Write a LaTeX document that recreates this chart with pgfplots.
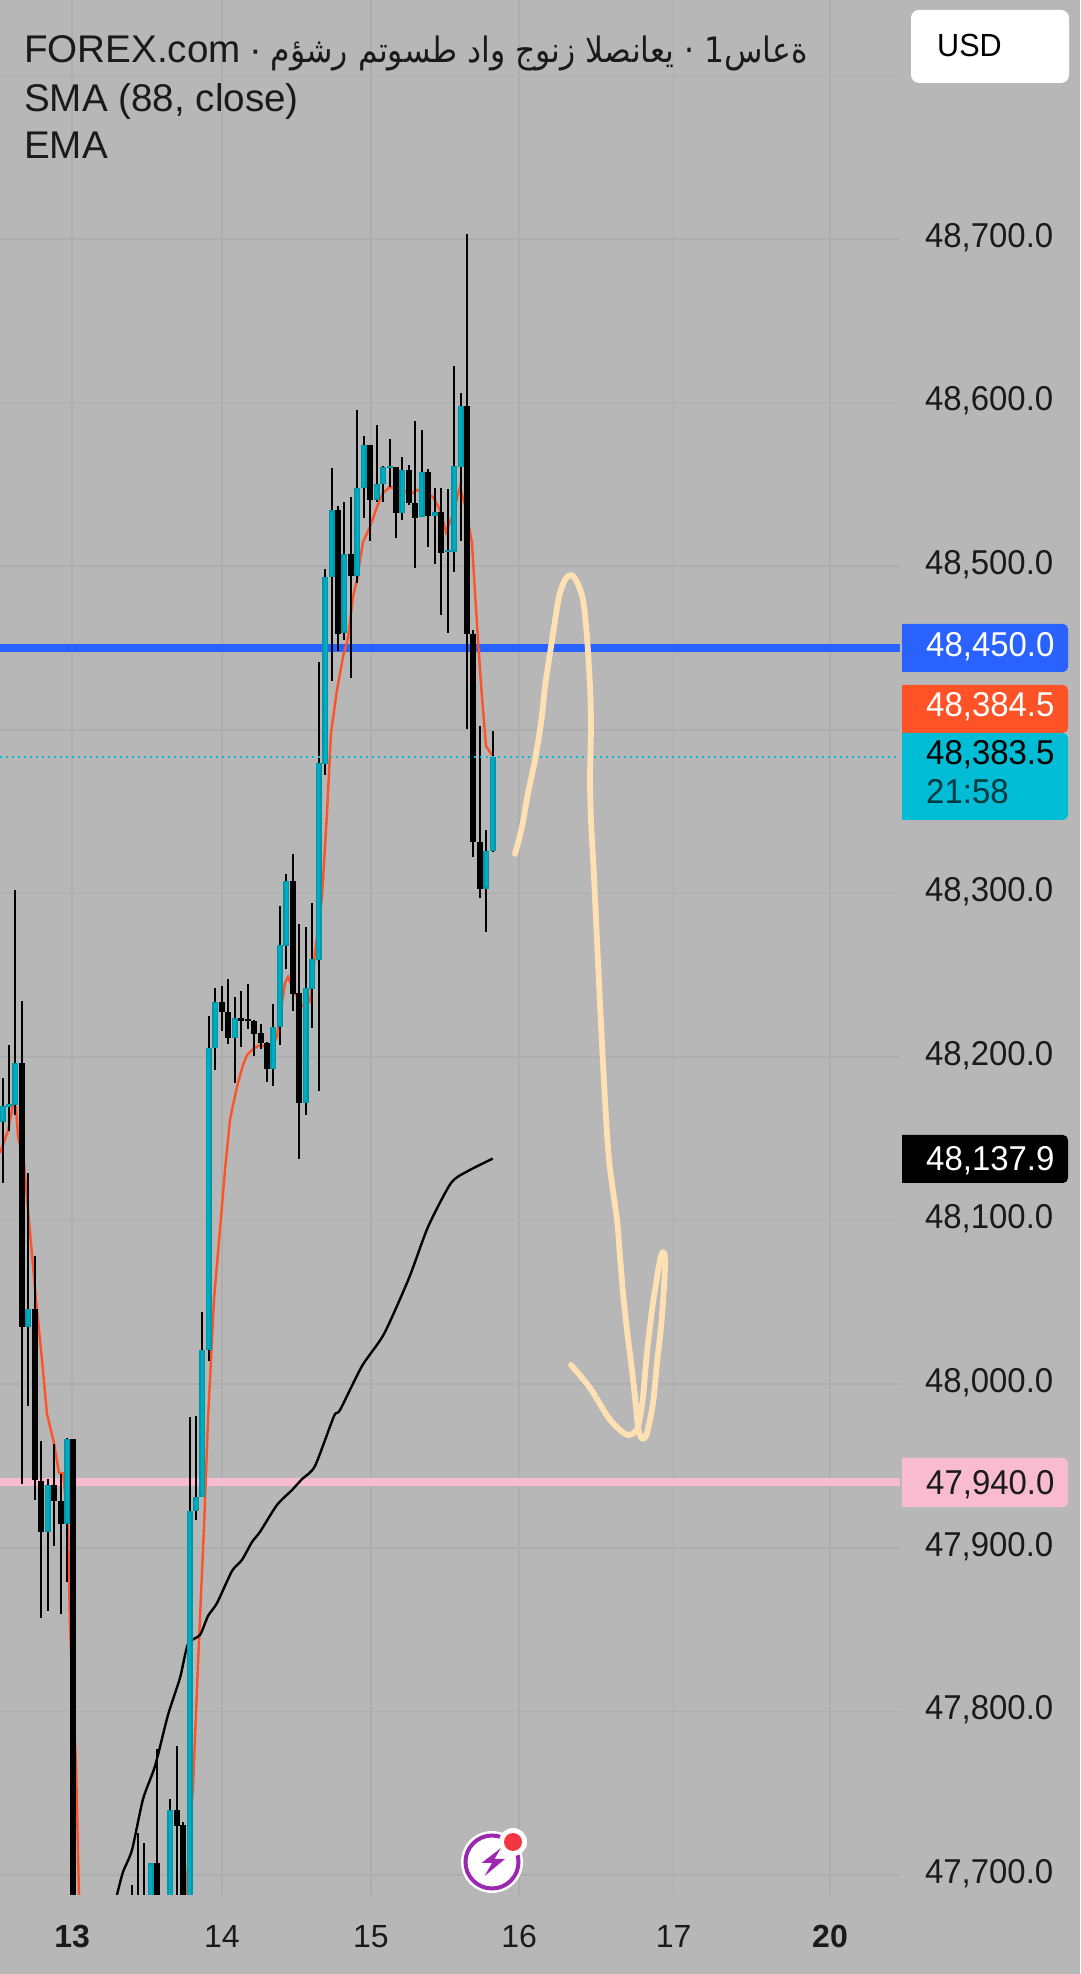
\documentclass[border=0pt]{standalone}
\usepackage{fontspec}
\usepackage{pgfplots}
\usepackage{pgfplotstable}
\pgfplotsset{compat=1.18}
\setmainfont{Liberation Sans}
\newfontfamily\pricefont[FakeStretch=0.955]{Liberation Sans}
\newfontfamily\arabicfont[Script=Arabic,FakeStretch=0.90]{DejaVu Sans}
\TeXXeTstate=1

\definecolor{bgc}{HTML}{B7B7B7}
\definecolor{gridc}{HTML}{AEAEAE}
\definecolor{upedge}{HTML}{0097A7}
\definecolor{upfill}{HTML}{00ACC1}
\definecolor{emac}{HTML}{FF5226}
\definecolor{bluec}{HTML}{2962FF}
\definecolor{pinkc}{HTML}{F8BBD0}
\definecolor{cyanc}{HTML}{00BCD4}
\definecolor{peach}{HTML}{FFE0B2}
\definecolor{txt}{HTML}{1A1A1A}
\definecolor{boltc}{HTML}{9C27B0}
\definecolor{dotc}{HTML}{F43643}

% n = candle number (hourly), prices
\pgfplotstableread{
n o h l c
-11 48160.3 48187.2 48123.0 48170.1
-10 48169.4 48207.3 48154.8 48171.3
-9 48170.7 48302.1 48164.6 48196.3
-7 48035.0 48129.1 47986.7 48046.0
-4 47909.7 47942.0 47861.4 47938.4
-1 47914.6 47967.1 47879.1 47966.5
12 47660.0 47707.3 47650.0 47707.3
15 47670.0 47746.4 47660.0 47739.7
18 47660.0 47979.9 47650.0 47922.5
19 47922.5 47980.5 47917.0 47931.0
20 47931.0 48044.1 47931.0 48020.9
21 48020.9 48225.1 48014.2 48205.5
22 48205.5 48242.2 48192.0 48233.6
25 48211.6 48236.7 48184.1 48223.8
31 48192.6 48232.4 48182.3 48218.4
32 48218.4 48292.3 48207.3 48268.5
33 48267.9 48311.9 48253.8 48307.6
36 48171.9 48279.5 48164.6 48242.2
37 48241.6 48294.1 48217.7 48259.9
38 48259.3 48441.4 48179.2 48379.7
39 48379.1 48498.3 48372.4 48493.4
40 48493.4 48560.0 48429.8 48534.3
42 48459.2 48539.2 48454.9 48507.4
44 48494.0 48595.5 48489.7 48547.8
45 48547.8 48579.6 48529.5 48574.1
47 48540.5 48586.3 48539.2 48550.2
48 48550.2 48561.3 48539.2 48560.6
49 48560.0 48577.8 48548.4 48561.3
51 48532.5 48566.8 48528.2 48558.8
54 48530.1 48583.3 48530.1 48557.6
56 48530.7 48547.8 48501.3 48533.1
58 48508.7 48547.2 48459.2 48509.9
59 48508.7 48622.4 48496.5 48561.3
60 48560.6 48605.9 48515.4 48597.9
64 48302.7 48338.8 48276.4 48325.9
65 48325.9 48399.2 48325.3 48383.5
}\upcandles

\pgfplotstableread{
n o h l c
-8 48196.3 48234.2 47939.0 48035.0
-6 48046.0 48078.4 47929.2 47941.4
-5 47940.8 47965.3 47857.1 47909.7
-3 47938.4 47963.5 47901.1 47928.6
-2 47928.6 47945.1 47859.5 47914.6
0 47966.5 47966.5 47650.0 47650.0
9 47670.0 47693.9 47650.0 47660.0
10 47670.0 47725.7 47650.0 47660.0
11 47670.0 47719.6 47650.0 47660.0
13 47707.3 47777.0 47650.0 47670.0
16 47739.7 47778.9 47650.0 47730.0
17 47730.6 47732.4 47650.0 47660.0
23 48233.6 48243.4 48215.9 48227.5
24 48227.5 48247.7 48207.9 48211.6
26 48223.8 48240.3 48206.1 48222.0
27 48223.2 48244.6 48217.1 48222.0
28 48222.0 48222.6 48200.6 48214.0
29 48214.7 48220.2 48204.9 48208.6
30 48208.6 48209.2 48184.7 48192.6
34 48307.6 48324.1 48228.1 48238.5
35 48239.1 48281.3 48137.6 48171.9
41 48534.3 48536.8 48448.2 48458.6
43 48507.4 48542.3 48431.7 48494.0
46 48574.1 48574.1 48515.4 48540.5
50 48560.6 48560.6 48517.2 48532.5
52 48558.8 48561.9 48537.4 48538.6
53 48538.6 48588.8 48498.9 48529.5
55 48557.6 48559.4 48511.7 48530.7
57 48533.1 48547.8 48470.2 48508.0
61 48597.9 48703.1 48400.5 48458.6
62 48458.6 48461.0 48322.2 48331.4
63 48331.4 48402.3 48297.2 48302.7
}\downcandles

\newcommand{\pricebox}[7]{%
  \fill[#1] (902,#2) [rounded corners=5pt] -- (1068,#2) -- (1068,#3) [sharp corners] -- (902,#3) -- cycle;
  \node[anchor=base west,inner sep=0pt,text=#4,font=\pricefont\fontsize{34.5}{34.5}\selectfont] at (926,#5) {#6};#7}

\begin{document}
\begin{tikzpicture}
\useasboundingbox (0pt,0pt) rectangle (1080pt,1974pt);
\fill[bgc] (0pt,0pt) rectangle (1080pt,1974pt);
\begin{axis}[
    at={(0pt,79pt)}, anchor=south west,
    scale only axis,
    width=900pt, height=1895pt,
    xmin=-11.395, xmax=128.14,
    ymin=47687.77, ymax=48846.09,
    axis line style={draw=none},
    major tick length=0pt,
    xtick={-0.2,23,46.1,69.1,93.05,117.29},
    xticklabels={{\bfseries 13},14,15,16,17,{\bfseries 20}},
    ytick={47700,47800,47900,48000,48100,48200,48300,48400,48500,48600,48700,48800},
    yticklabels={{47,700.0},{47,800.0},{47,900.0},{48,000.0},{48,100.0},{48,200.0},{48,300.0},{48,400.0},{48,500.0},{48,600.0},{48,700.0},{}},
    yticklabel pos=right,
    grid=major,
    grid style={gridc, line width=1.5pt},
    xticklabel style={font=\fontsize{32}{32}\selectfont, text=txt, anchor=base, yshift=-53pt, inner sep=0pt},
    yticklabel style={font=\pricefont\fontsize{34.5}{34.5}\selectfont, text=txt, anchor=east, xshift=153.5pt, yshift=1.5pt, inner sep=0pt},
  ]

  % horizontal levels
  \addplot[pinkc, line width=8pt, forget plot] coordinates {(-11.395,47940) (128.14,47940)};
  \addplot[bluec, line width=8pt, forget plot] coordinates {(-11.395,48450) (128.14,48450)};

  % --- EMA ---
  \addplot[emac, line width=2.4pt, forget plot] coordinates {
    (-11.4,48141.3) (-10.16,48154.8) (-9.38,48170.7) (-8.91,48169.4) (-8.6,48151.1) (-7.67,48135.2)
    (-7.05,48106.5) (-5.81,48051.5) (-4.88,48014.8) (-4.11,47981.8) (-3.02,47964.1) (-2.25,47945.7)
    (-1.63,47945.7) (-0.85,47914.6) (-0.54,47851.0) (0.39,47767.2) (0.85,47687.8) (1.3,47623)
    (10,47600) (16,47620) (17.13,47654) (17.44,47687.8) (18.53,47754.4) (19.46,47843.6) (20.23,47912.1)
    (20.85,47978.1) (21.78,48051.5) (23.49,48130.9) (24.26,48161.5) (24.73,48170.7) (25.5,48184.1)
    (26.28,48195.1) (26.9,48201.2) (27.83,48204.9) (28.91,48207.3) (30.47,48205.5) (31.55,48212.2)
    (32.79,48245.2) (33.26,48248.9) (34.34,48239.1) (35.43,48231.2) (36.67,48233.6) (36.98,48245.2)
    (37.44,48263.6) (38.53,48297.8) (39.3,48349.1) (39.92,48398.0) (40.85,48424.3) (41.78,48444.5)
    (42.56,48456.1) (43.33,48481.2) (43.95,48491.6) (44.88,48514.8) (45.97,48524.0) (47.05,48536.2)
    (47.98,48544.8) (49.07,48548.4) (50.62,48546.6) (52.64,48544.8) (53.26,48546.6) (55.74,48542.3)
    (56.82,48534.3) (57.75,48520.9) (58.68,48530.1) (59.92,48548.4) (60.7,48537.4) (61.78,48514.2)
    (62.71,48454.9) (63.33,48420.0) (63.95,48390.1) (64.88,48384.5)
  };

  % --- SMA 88 ---
  \addplot[black, line width=2.4pt, smooth, tension=0.4, forget plot] coordinates {
    (6.74,47687.8) (7.67,47701.8) (9.07,47715.3) (10.78,47746.4) (12.64,47766.6) (14.65,47797.8)
    (16.51,47820.4) (17.75,47841.2) (19.61,47846.7) (20.85,47858.3) (22.25,47866.2) (24.57,47885.8)
    (26.12,47892.6) (27.67,47903.5) (28.91,47909.7) (31.55,47926.2) (33.88,47935.3) (35.43,47942.0)
    (37.44,47950.0) (40.39,47980.5) (41.32,47984.2) (44.73,48011.1) (48.14,48030.7) (52.02,48064.9)
    (54.96,48096.1) (58.53,48123.0) (61.16,48130.3) (65,48137.9)
  };

  % --- candles: wicks, then bodies ---
  \addplot[draw=none, forget plot, error bars/.cd, y dir=plus, y explicit, error mark=none,
      error bar style={black, line width=2pt}]
    table[x=n, y=l, y error expr=\thisrow{h}-\thisrow{l}] {\upcandles};
  \addplot[draw=none, forget plot, error bars/.cd, y dir=plus, y explicit, error mark=none,
      error bar style={black, line width=2pt}]
    table[x=n, y=l, y error expr=\thisrow{h}-\thisrow{l}] {\downcandles};
  \addplot[draw=none, forget plot, error bars/.cd, y dir=plus, y explicit, error mark=none,
      error bar style={black, line width=6pt}]
    table[x=n, y=c, y error expr=\thisrow{o}-\thisrow{c}] {\downcandles};
  \addplot[draw=none, forget plot, error bars/.cd, y dir=plus, y explicit, error mark=none,
      error bar style={upedge, line width=6pt}]
    table[x=n, y=o, y error expr=\thisrow{c}-\thisrow{o}] {\upcandles};
  \addplot[draw=none, forget plot, error bars/.cd, y dir=plus, y explicit, error mark=none,
      error bar style={upfill, line width=3pt}]
    table[x=n, y expr=\thisrow{o}+0.9, y error expr={max(\thisrow{c}-\thisrow{o}-1.8,0)}] {\upcandles};

  % current price
  \addplot[cyanc, line width=2pt, dash pattern=on 2pt off 4pt, forget plot] coordinates {(-11.395,48383.5) (128.14,48383.5)};

  % hand drawn arrow
  \addplot[peach, line width=5.8pt, line cap=round, line join=round, smooth, tension=0.55, forget plot] coordinates {
    (68.45,48324.1) (69.53,48340.6) (70.47,48361.4) (71.55,48381.5) (72.48,48404.2) (73.1,48426.2)
    (73.88,48446.9) (74.5,48462.8) (75.27,48481.2) (76.2,48491.6) (77.13,48494.6) (78.06,48490.3)
    (78.99,48479.3) (79.61,48456.7) (80.08,48426.2) (80.23,48401.7) (80.08,48371.2) (80.23,48344.9)
    (80.7,48310.0) (81.47,48245.8) (82.25,48184.7) (83.02,48137.6) (84.26,48100.4) (84.73,48077.7)
    (85.2,48055.7) (85.81,48033.1) (86.59,48008.7) (87.21,47986.0) (87.52,47973.8) (87.83,47968.9)
    (88.29,47966.5) (88.91,47970.2) (89.84,47988.5) (90.46,48012.9) (91.09,48035.0) (91.55,48059.4)
    (91.71,48075.9) (91.4,48080.8) (90.93,48075.9) (90.16,48057.6) (89.69,48045.3) (88.91,48019.1)
    (88.29,47992.2) (87.67,47976.3) (87.05,47970.8) (85.97,47968.9) (84.73,47972.0) (82.87,47979.9)
    (80.08,47997.7) (77.13,48011.7)
  };
\end{axis}

\begin{scope}[x=1pt, y=-1pt, yshift=1974pt]
  % header
  \node[anchor=base west, inner sep=0pt, font=\fontsize{38.6}{38.6}\selectfont, text=txt] at (24,63) {FOREX.com};
  \node[anchor=base, inner sep=0pt, font=\fontsize{38}{38}\selectfont, text=txt] at (256,63) {·};
  \node[anchor=base east, inner sep=0pt, font=\fontsize{35}{35}\selectfont, text=txt] at (808,63)
    {\arabicfont\beginR ةعاس\beginL 1\endL{} · يعانصلا زنوج واد طسوتم رشؤم\endR};
  \node[anchor=base west, inner sep=0pt, font=\fontsize{38.6}{38.6}\selectfont, text=txt] at (24,112) {SMA (88, close)};
  \node[anchor=base west, inner sep=0pt, font=\fontsize{38.6}{38.6}\selectfont, text=txt] at (24,159) {EMA};

  % currency button
  \fill[white, rounded corners=8pt] (911,10) rectangle (1069,83);
  \node[anchor=base west, inner sep=0pt, text=black, font=\pricefont\fontsize{32}{32}\selectfont] at (937,57) {USD};

  % last values
  \pricebox{bluec}{624}{672}{white}{657}{48,450.0}{}
  \pricebox{emac}{685}{733}{white}{717}{48,384.5}{}
  \pricebox{cyanc}{733}{820}{black}{765}{48,383.5}{%
    \node[anchor=base west,inner sep=0pt,text=black!70!cyanc,font=\pricefont\fontsize{34.5}{34.5}\selectfont] at (926,804) {21:58};}
  \pricebox{black}{1135}{1183}{white}{1171}{48,137.9}{}
  \pricebox{pinkc}{1458}{1507}{txt}{1495}{47,940.0}{}

  % badge
  \fill[white] (492,1862) circle (31);
  \draw[boltc, line width=4pt] (492,1862) circle (26.5);
  \fill[boltc] (501,1848) -- (481.5,1863) -- (492,1863) -- (484.6,1876) -- (505,1859) -- (494.5,1859) -- cycle;
  \fill[white] (513,1842) circle (14);
  \fill[dotc] (513,1842) circle (9);
\end{scope}
\end{tikzpicture}
\end{document}
